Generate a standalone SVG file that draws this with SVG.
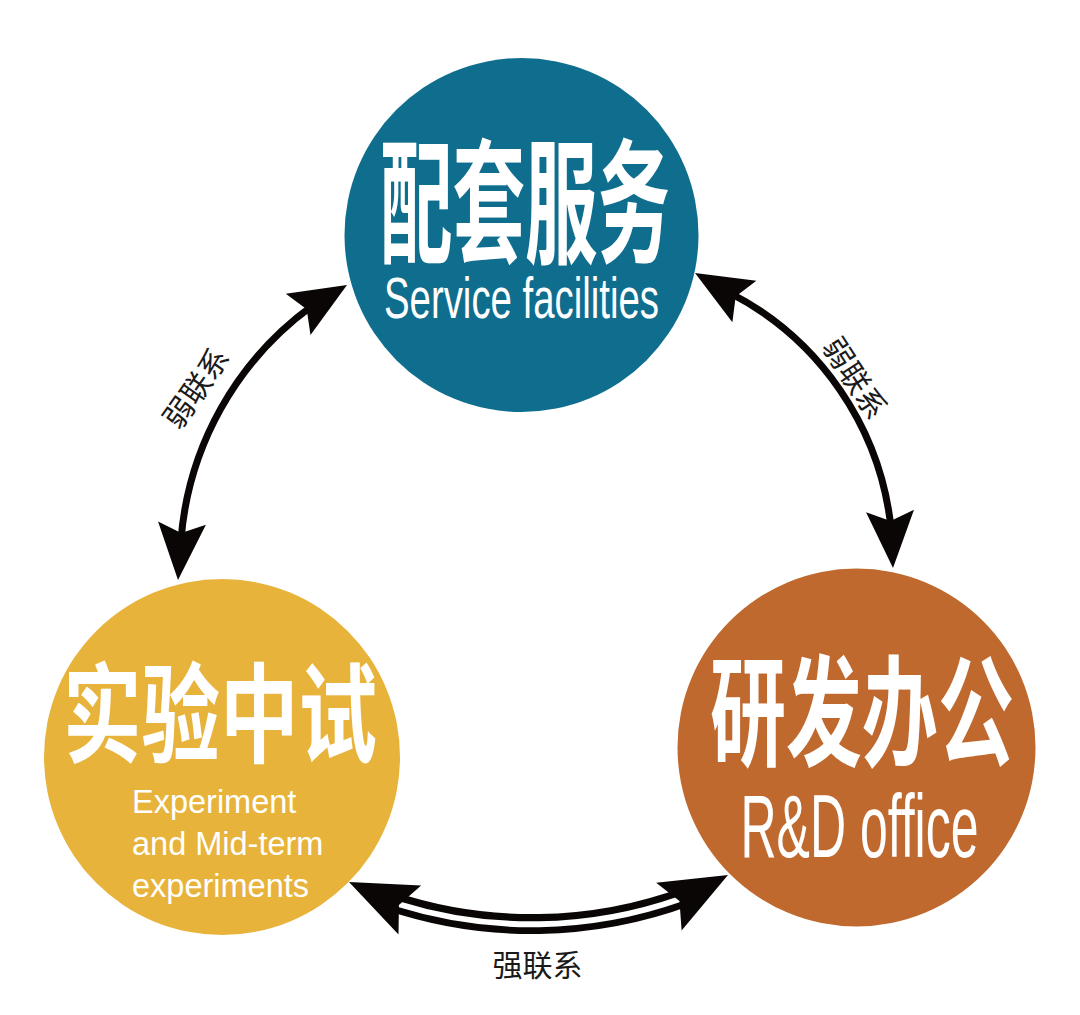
<svg xmlns="http://www.w3.org/2000/svg" xmlns:xlink="http://www.w3.org/1999/xlink" width="1080" height="1015" viewBox="0 0 1080 1015">
<style>
.cn{font-family:"Noto Sans CJK SC","Noto Sans",sans-serif;font-weight:700;fill:#ffffff;text-anchor:middle}
.en{font-family:"Liberation Sans",Arial,sans-serif;fill:#ffffff}
.lbl{font-family:"Noto Sans CJK SC","Noto Sans",sans-serif;font-weight:400;fill:#1a1a1a;font-size:30px;text-anchor:middle}
.arc{fill:none;stroke:#0a0606;stroke-width:7}
.arcw{fill:none;stroke:#0a0606;stroke-width:20}
.gap{fill:none;stroke:#ffffff;stroke-width:6}
.head{fill:#0a0606}
</style>
<defs>
<path id="hs" d="M0,0 L-57,-24 L-47,0 L-57,24 Z"/>
<path id="hl" d="M0,0 L-67,-27 L-55,0 L-67,27 Z"/>
</defs>
<rect width="1080" height="1015" fill="#ffffff"/>

<g id="node-service">
<circle cx="521.5" cy="235" r="177" fill="#0f6e8e"/>
<text class="cn" font-size="76" textLength="290" lengthAdjust="spacingAndGlyphs" transform="translate(525,252.5) scale(1,1.78)">配套服务</text>
<text class="en" font-size="57" text-anchor="middle" x="521.5" y="318" textLength="275" lengthAdjust="spacingAndGlyphs">Service facilities</text>
</g>

<g id="node-experiment">
<circle cx="222" cy="757" r="178" fill="#e8b33b"/>
<text class="cn" font-size="80" textLength="314" lengthAdjust="spacingAndGlyphs" transform="translate(220,754.4) scale(1,1.35)">实验中试</text>
<text class="en" font-size="32.5" x="132" y="813">Experiment</text>
<text class="en" font-size="32.5" x="132" y="855">and Mid-term</text>
<text class="en" font-size="32.5" x="132" y="897">experiments</text>
</g>

<g id="node-rd">
<circle cx="856.5" cy="747.5" r="179" fill="#bf692f"/>
<text class="cn" font-size="78" textLength="304" lengthAdjust="spacingAndGlyphs" transform="translate(862,756.6) scale(1,1.54)">研发办公</text>
<text class="en" font-size="89" text-anchor="middle" x="859.5" y="857" textLength="238" lengthAdjust="spacingAndGlyphs">R&amp;D office</text>
</g>

<g id="connectors">
<path class="arc" d="M181,540 A320,320 0 0 1 312,306"/>
<path class="arc" d="M730,293 A300,300 0 0 1 891,528"/>
<path class="arcw" d="M390,901 A448,448 0 0 0 688,896"/>
<path class="gap" d="M398,904 A448,448 0 0 0 680,899"/>
<use xlink:href="#hs" class="head" transform="translate(178,580) rotate(94)"/>
<use xlink:href="#hs" class="head" transform="translate(347,285) rotate(-31)"/>
<use xlink:href="#hs" class="head" transform="translate(695,273) rotate(210)"/>
<use xlink:href="#hs" class="head" transform="translate(893,568) rotate(87)"/>
<use xlink:href="#hl" class="head" transform="translate(349,882) rotate(204.8)"/>
<use xlink:href="#hl" class="head" transform="translate(728,875) rotate(-28.1)"/>
<text class="lbl" transform="translate(196,388) rotate(-55)" y="11">弱联系</text>
<text class="lbl" transform="translate(855,378) rotate(57)" y="11">弱联系</text>
<text class="lbl" x="537.5" y="976">强联系</text>
</g>
</svg>
